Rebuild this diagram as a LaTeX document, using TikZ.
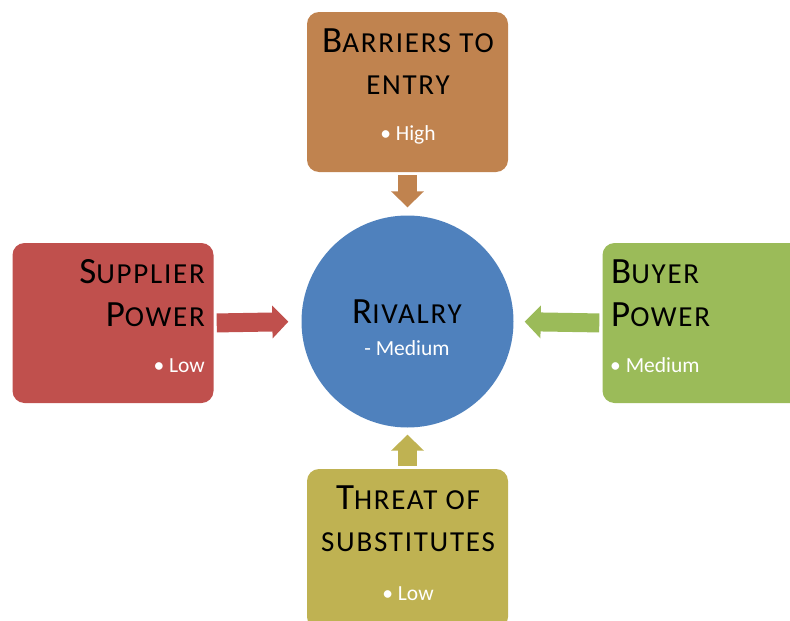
\documentclass[tikz,border=0pt]{standalone}
\usepackage{fontspec}
\setmainfont{Carlito}
\usetikzlibrary{arrows.meta}
\definecolor{cbrown}{RGB}{192,131,79}
\definecolor{cred}{RGB}{192,80,77}
\definecolor{cgreen}{RGB}{155,187,89}
\definecolor{cblue}{RGB}{79,129,189}
\definecolor{colive}{RGB}{191,178,82}
\newcommand\bigL[1]{{\addfontfeatures{LetterSpace=5}\fontsize{37}{37}\selectfont #1}}
\newcommand\smL[1]{{\addfontfeatures{LetterSpace=6}\fontsize{29}{29}\selectfont #1}}
\tikzset{
  box/.style={rounded corners=12pt, minimum width=201pt, minimum height=160pt, inner sep=0pt, draw=none},
  ttl/.style={anchor=base, inner sep=0pt, text=black},
  val/.style={anchor=base, inner sep=0pt, text=white, font=\fontsize{21.5}{21.5}\selectfont},
  blk/.style={line width=19pt, -{Triangle[width=32pt,length=16pt]}, shorten <=3pt}
}
\begin{document}
\begin{tikzpicture}[x=1pt,y=-1pt]
\useasboundingbox (0,0) rectangle (790,621);
\clip (0,0) rectangle (790,621);
% boxes
\node[box, fill=cbrown] (top) at (407.5,92) {};
\node[box, fill=cred] (sup) at (113,323) {};
\node[box, fill=cgreen] (buy) at (703,323) {};
\node[box, fill=colive] (sub) at (407.5,549) {};
\node[circle, fill=cblue, minimum size=212pt, inner sep=0pt] (riv) at (407.5,321.5) {};
% arrows
\draw[blk, cbrown, shorten >=8pt] (top.south) -- (riv.north);
\draw[blk, colive, shorten >=7pt] (sub.north) -- (riv.south);
\draw[blk, cred, shorten >=13pt] (sup.east) -- (riv.west);
\draw[blk, cgreen, shorten >=11pt] (buy.west) -- (riv.east);
% texts top
\node[ttl] (t1) at (408,52) {\bigL{B}\smL{ARRIERS TO}};
\node[ttl] (t2) at (408,94) {\smL{ENTRY}};
\node[val] (t3) at (408,140) {• High};
% left
\node[ttl, anchor=base east] (s1) at (205,283) {\bigL{S}\smL{UPPLIER}};
\node[ttl, anchor=base east] (s2) at (205,326) {\bigL{P}\smL{OWER}};
\node[val, anchor=base east] (s3) at (205,372) {• Low};
% right
\node[ttl, anchor=base west] (b1) at (611,283) {\bigL{B}\smL{UYER}};
\node[ttl, anchor=base west] (b2) at (611,326) {\bigL{P}\smL{OWER}};
\node[val, anchor=base west] (b3) at (610,372) {• Medium};
% bottom
\node[ttl] (u1) at (408,509) {\bigL{T}\smL{HREAT OF}};
\node[ttl] (u2) at (408,551) {\smL{SUBSTITUTES}};
\node[val] (u3) at (408,600) {• Low};
% center
\node[ttl] (r1) at (407,323) {\bigL{R}\smL{IVALRY}};
\node[val] (r2) at (407,355) {- Medium};
\end{tikzpicture}
\end{document}
